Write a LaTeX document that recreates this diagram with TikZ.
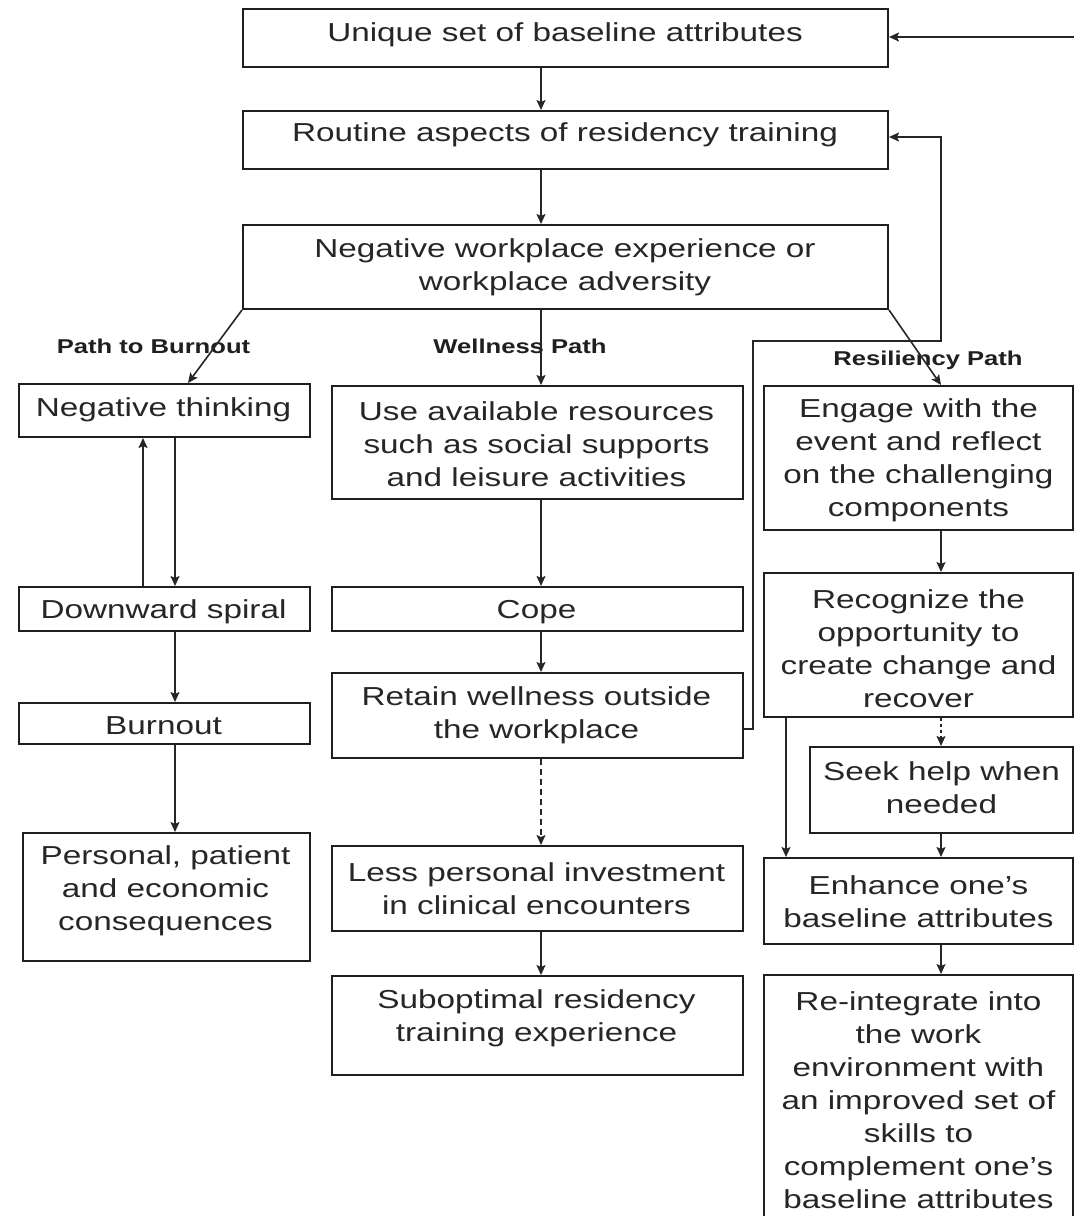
\documentclass[tikz,border=0pt]{standalone}
\usepackage{fontspec}
\setmainfont{Liberation Sans}[FakeStretch=1.28]
\usetikzlibrary{arrows.meta}
\begin{document}
\begin{tikzpicture}[x=1pt,y=-1pt,
  box/.style={draw=black!88, line width=2pt, inner sep=0pt},
  txt/.style={align=center, text=black!85, inner sep=0pt, yshift=-3pt, font=\fontsize{26}{33}\selectfont},
  pathlabel/.style={text=black!88, inner sep=0pt, font=\bfseries\fontsize{20}{24}\selectfont},
  arr/.style={draw=black!85, line width=1.6pt, -{Stealth[length=10pt,width=9pt,inset=2pt]}},
  dasharr/.style={arr, dash pattern=on 6pt off 4pt},
  dotarr/.style={arr, dash pattern=on 3pt off 3pt}]

\fill[white] (0,0) rectangle (1074,1216);
\clip (0,0) rectangle (1074,1216);

% boxes: name, left, top, right, bottom
\newcommand{\flowbox}[5]{%
  \node[box, anchor=north west, minimum width={#4-#2}, minimum height={#5-#3}] (#1) at (#2,#3) {};}

\flowbox{unique}{242}{8}{887}{66}
\flowbox{routine}{242}{110}{887}{168}
\flowbox{negw}{242}{224}{887}{308}
\flowbox{negth}{18}{383}{309}{436}
\flowbox{use}{331}{385}{742}{498}
\flowbox{engage}{763}{385}{1072}{529}
\flowbox{spiral}{18}{586}{309}{630}
\flowbox{cope}{331}{586}{742}{630}
\flowbox{recog}{763}{572}{1072}{716}
\flowbox{burnout}{18}{702}{309}{743}
\flowbox{retain}{331}{672}{742}{757}
\flowbox{seek}{809}{746}{1072}{832}
\flowbox{conseq}{22}{832}{309}{960}
\flowbox{less}{331}{845}{742}{930}
\flowbox{enhance}{763}{857}{1072}{943}
\flowbox{subopt}{331}{975}{742}{1074}
\flowbox{reint}{763}{974}{1072}{1221}

% texts
\node[txt] (unique-t) at (565,32) {Unique set of baseline attributes};
\node[txt] (routine-t) at (565,132) {Routine aspects of residency training};
\node[txt] (negw-t) at (565,264.5) {Negative workplace experience or\\workplace adversity};
\node[txt] (negth-t) at (163.5,407) {Negative thinking};
\node[txt] (use-t) at (536.5,441) {Use available resources\\such as social supports\\and leisure activities};
\node[txt] (engage-t) at (918.5,457.5) {Engage with the\\event and reflect\\on the challenging\\components};
\node[txt] (spiral-t) at (163.5,609) {Downward spiral};
\node[txt] (cope-t) at (536.5,609) {Cope};
\node[txt] (recog-t) at (918.5,645.5) {Recognize the\\opportunity to\\create change and\\recover};
\node[txt] (burnout-t) at (163.5,723) {Burnout};
\node[txt] (retain-t) at (536.5,712.5) {Retain wellness outside\\the workplace};
\node[txt] (seek-t) at (941.5,785) {Seek help when\\needed};
\node[txt] (conseq-t) at (165.5,888) {Personal, patient\\and economic\\consequences};
\node[txt] (less-t) at (536.5,885.5) {Less personal investment\\in clinical encounters};
\node[txt] (enhance-t) at (918.5,898.5) {Enhance one's\\baseline attributes};
\node[txt] (subopt-t) at (536.5,1015) {Suboptimal residency\\training experience};
\node[txt] (reint-t) at (918.5,1097.5) {Re-integrate into\\the work\\environment with\\an improved set of\\skills to\\complement one's\\baseline attributes};

% path labels
\node[pathlabel] (lburn) at (153.5,346) {Path to Burnout};
\node[pathlabel] (lwell) at (520,346) {Wellness Path};
\node[pathlabel] (lres) at (928,360) {Resiliency Path};

% column guides
\coordinate (cA) at (143,0);
\coordinate (cB) at (175,0);
\coordinate (cM) at (541,0);
\coordinate (cR) at (941,0);
\coordinate (cL) at (786,0);
\coordinate (burnend) at (188,383);
\coordinate (feedback) at (1074,37);

% main trunk
\draw[arr] (unique.south -| cM) -- (routine.north -| cM);
\draw[arr] (routine.south -| cM) -- (negw.north -| cM);
\draw[arr] (negw.south west) -- (burnend);
\draw[arr] (negw.south -| cM) -- (use.north -| cM);
\draw[arr] (negw.south east) -- (engage.north -| cR);

% path to burnout
\draw[arr] (spiral.north -| cA) -- (negth.south -| cA);
\draw[arr] (negth.south -| cB) -- (spiral.north -| cB);
\draw[arr] (spiral.south -| cB) -- (burnout.north -| cB);
\draw[arr] (burnout.south -| cB) -- (conseq.north -| cB);

% wellness path
\draw[arr] (use.south -| cM) -- (cope.north -| cM);
\draw[arr] (cope.south -| cM) -- (retain.north -| cM);
\draw[dasharr] (retain.south -| cM) -- (less.north -| cM);
\draw[arr] (less.south -| cM) -- (subopt.north -| cM);
\draw[arr] (retain.east |- 0,729) -- (753,729) -- (753,341) -- (941,341)
  -- (941,137) -- (routine.east |- 0,137);

% resiliency path
\draw[arr] (engage.south -| cR) -- (recog.north -| cR);
\draw[dotarr] (recog.south -| cR) -- (seek.north -| cR);
\draw[arr] (recog.south -| cL) -- (enhance.north -| cL);
\draw[arr] (seek.south -| cR) -- (enhance.north -| cR);
\draw[arr] (enhance.south -| cR) -- (reint.north -| cR);
\draw[arr] (feedback) -- (unique.east |- feedback);
\end{tikzpicture}
\end{document}
